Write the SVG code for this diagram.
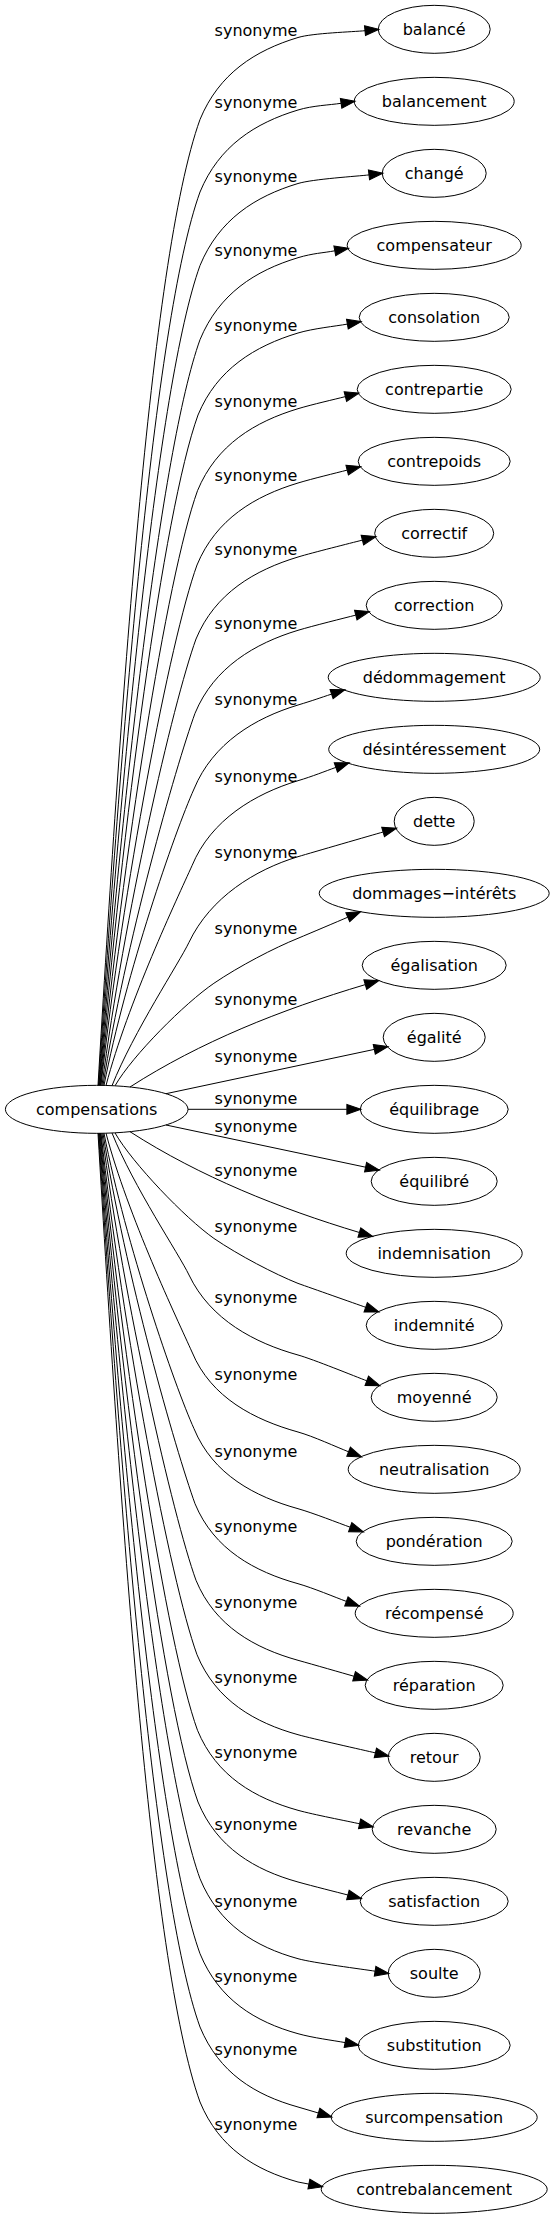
<svg xmlns="http://www.w3.org/2000/svg" width="554" height="2219" viewBox="0 0 554 2219">
<defs>
<marker id="ah" markerUnits="userSpaceOnUse" markerWidth="14" markerHeight="10" viewBox="0 0 13.33 9.33" refX="0" refY="4.67" orient="auto" overflow="visible"><polygon points="0,0 13.33,4.67 0,9.33" fill="#000" stroke="#000" stroke-width="1"/></marker>
<style>
.n ellipse{fill:none;stroke:#000;stroke-width:1}
text{font-family:"DejaVu Sans","Liberation Sans",sans-serif;font-size:16px;fill:#000;text-anchor:middle}
#edges path{fill:none;stroke:#000;stroke-width:1;marker-end:url(#ah)}
</style>
</defs>
<rect width="554" height="2219" fill="#fff"/>
<g id="edges">
<path d="M98,1085.4 C119.9,720.3 149.4,260 200,119.5 C219,73.5 255,50.5 298,37.5 C313,33 353.1,31.9 365,30.7"/>
<path d="M98.5,1085.4 C120.4,747.7 153.2,322 200,192 C219,146 255,123 298,110 C313,105.5 329.2,105.1 341.1,103.3"/>
<path d="M99,1085.4 C120.9,775.5 157.1,384.8 200,265.5 C219,219.5 255,196.5 298,183.5 C313,179 357.1,176.3 369,174.9"/>
<path d="M99.5,1085.4 C121.4,803.5 160.9,448.2 200,339.7 C219,293.7 255,270.7 298,257.7 C313,253.2 323,253 334.8,250.8"/>
<path d="M100,1085.4 C121.9,832 162.9,512.5 198,415 C217,369 255,346 298,333 C313,328.5 335.6,326.2 347.4,324.1"/>
<path d="M100.5,1085.4 C122.4,860.6 166.4,577.2 197.5,490.7 C216.5,444.7 255,421.7 298,408.7 C313,404.2 333.8,399.6 345.4,396.6"/>
<path d="M101,1085.4 C122.9,888.7 169.7,640.7 197,565 C216,519 255,496 298,483 C313,478.5 335.6,473.1 347.2,470.1"/>
<path d="M102,1085.4 C123.9,916.7 172.6,704 196,639 C215,593 255,570 298,557 C313,552.5 350.8,543.1 362.4,540.1"/>
<path d="M103,1085.4 C124.9,944.7 175.5,767.4 195,713.3 C214,667.3 255,643.3 298,630.3 C313,625.8 344.2,618.1 355.8,615.1"/>
<path d="M104,1085.4 C125.9,973.4 174.6,832.1 194,789 C213,743 255,718 298,705 C313,700.5 320.2,697.8 331.6,694.1"/>
<path d="M106,1085.5 C127.9,1002.3 177.6,897.7 192,865.7 C211,819.7 255,793.7 298,780.7 C313,776.2 324.6,771.4 335.9,767.4"/>
<path d="M112,1085.7 C133.7,1031.5 179,963.2 189,942.3 C210.5,897.3 255,869.7 298,856.7 C313,852.2 371.6,835.3 383.1,832"/>
<path d="M115,1085.8 C132.5,1055.4 185,1003 213.9,983.3 C238.7,966.4 274.8,947.6 298,938.3 C311.8,932.5 336.8,921.9 347.8,917.2"/>
<path d="M130,1087 C200,1042 280,1010 365.3,984.6"/>
<path d="M166,1093.7 L374.3,1049.4"/>
<path d="M188,1109.3 L346.9,1109.3"/>
<path d="M166,1125 L365.6,1167.2"/>
<path d="M130,1131.7 C200,1176.7 280,1208.7 359.4,1232.5"/>
<path d="M115,1132.9 C132.5,1163.3 185,1218 213.9,1238.4 C238.7,1255.3 274.8,1274.1 298,1283.4 C312.1,1288.4 354.4,1303.3 365.7,1307.3"/>
<path d="M112,1133 C133.5,1186.7 179.1,1254.3 189,1275 C210.5,1320 255,1343 298,1355 C313,1359.2 355.6,1376.6 366.8,1380.8"/>
<path d="M106,1133.2 C127.9,1216 177.7,1320.2 192,1352 C211,1398 255,1420 298,1432 C313,1436.2 337.4,1447.4 348.6,1451.8"/>
<path d="M104,1133.3 C125.9,1245 174.6,1385.7 194,1428.7 C213,1474.7 255,1496.7 298,1508.7 C313,1512.9 338.9,1523.2 350.2,1527.2"/>
<path d="M103,1133.3 C124.9,1273.3 175.6,1449.8 195,1503.7 C214,1549.7 255,1571.7 298,1583.7 C313,1587.9 335.1,1597.3 346.4,1601.4"/>
<path d="M102,1133.3 C123.9,1302.3 172.6,1515.3 196,1580.3 C215,1626.3 255,1648.3 298,1660.3 C313,1664.5 342.6,1673 354.1,1676.3"/>
<path d="M101,1133.3 C122.9,1330.4 169.7,1578.8 197,1654.7 C216,1700.7 255,1722.7 298,1734.7 C313,1738.9 363.7,1750.1 375.4,1752.9"/>
<path d="M100.5,1133.3 C122.4,1359 166.2,1643.4 197.5,1730.3 C216.5,1776.3 255,1798.3 298,1810.3 C313,1814.5 347.9,1821.2 359.6,1823.8"/>
<path d="M100,1133.3 C121.9,1386.1 163,1704.7 198,1802 C217,1848 255,1870 298,1882 C313,1886.2 336.3,1892 347.9,1895"/>
<path d="M99.5,1133.3 C121.4,1415.1 160.9,1770.2 200,1878.7 C219,1924.7 255,1946.7 298,1958.7 C313,1962.9 363.3,1969.3 375.1,1971.2"/>
<path d="M99,1133.3 C120.9,1443.4 157,1834.3 200,1953.7 C219,1999.7 255,2021.7 298,2033.7 C313,2037.9 333.3,2040.4 345.1,2042.6"/>
<path d="M98.5,1133.3 C120.4,1471.1 153.2,1897 200,2027 C219,2073 255,2095 298,2107 L318.4,2113"/>
<path d="M98,1133.3 C119.9,1499.5 149.3,1961.1 200,2102 C219,2148 255,2170 298,2182 L308.9,2184.1"/>
</g>
<g id="edge-labels">
<text x="256" y="35.5">synonyme</text>
<text x="256" y="108">synonyme</text>
<text x="256" y="181.5">synonyme</text>
<text x="256" y="255.7">synonyme</text>
<text x="256" y="331">synonyme</text>
<text x="256" y="406.7">synonyme</text>
<text x="256" y="481">synonyme</text>
<text x="256" y="555">synonyme</text>
<text x="256" y="629.3">synonyme</text>
<text x="256" y="705">synonyme</text>
<text x="256" y="781.7">synonyme</text>
<text x="256" y="858.3">synonyme</text>
<text x="256" y="934.3">synonyme</text>
<text x="256" y="1005">synonyme</text>
<text x="256" y="1061.7">synonyme</text>
<text x="256" y="1104">synonyme</text>
<text x="256" y="1131.7">synonyme</text>
<text x="256" y="1175.7">synonyme</text>
<text x="256" y="1231.7">synonyme</text>
<text x="256" y="1303">synonyme</text>
<text x="256" y="1380">synonyme</text>
<text x="256" y="1456.7">synonyme</text>
<text x="256" y="1531.7">synonyme</text>
<text x="256" y="1608.3">synonyme</text>
<text x="256" y="1682.7">synonyme</text>
<text x="256" y="1758.3">synonyme</text>
<text x="256" y="1830">synonyme</text>
<text x="256" y="1906.7">synonyme</text>
<text x="256" y="1981.7">synonyme</text>
<text x="256" y="2055">synonyme</text>
<text x="256" y="2130">synonyme</text>
</g>
<g id="compensations" class="n"><ellipse cx="96.7" cy="1109.33" rx="91.3" ry="24"/><text x="96.7" y="1114.8">compensations</text></g>
<g id="balance" class="n"><ellipse cx="434.2" cy="29.33" rx="56" ry="24"/><text x="434.2" y="34.8">balancé</text></g>
<g id="balancement" class="n"><ellipse cx="434.2" cy="101.33" rx="80" ry="24"/><text x="434.2" y="106.8">balancement</text></g>
<g id="change" class="n"><ellipse cx="434.2" cy="173.33" rx="52" ry="24"/><text x="434.2" y="178.8">changé</text></g>
<g id="compensateur" class="n"><ellipse cx="434.2" cy="245.33" rx="87" ry="24"/><text x="434.2" y="250.8">compensateur</text></g>
<g id="consolation" class="n"><ellipse cx="434.2" cy="317.33" rx="75" ry="24"/><text x="434.2" y="322.8">consolation</text></g>
<g id="contrepartie" class="n"><ellipse cx="434.2" cy="389.33" rx="77" ry="24"/><text x="434.2" y="394.8">contrepartie</text></g>
<g id="contrepoids" class="n"><ellipse cx="434.2" cy="461.33" rx="76" ry="24"/><text x="434.2" y="466.8">contrepoids</text></g>
<g id="correctif" class="n"><ellipse cx="434.2" cy="533.33" rx="59.5" ry="24"/><text x="434.2" y="538.8">correctif</text></g>
<g id="correction" class="n"><ellipse cx="434.2" cy="605.33" rx="68" ry="24"/><text x="434.2" y="610.8">correction</text></g>
<g id="dedommagement" class="n"><ellipse cx="434.2" cy="677.33" rx="106" ry="24"/><text x="434.2" y="682.8">dédommagement</text></g>
<g id="desinteressement" class="n"><ellipse cx="434.2" cy="749.33" rx="105.5" ry="24"/><text x="434.2" y="754.8">désintéressement</text></g>
<g id="dette" class="n"><ellipse cx="434.2" cy="821.33" rx="40" ry="24"/><text x="434.2" y="826.8">dette</text></g>
<g id="dommages-interets" class="n"><ellipse cx="434.2" cy="893.33" rx="115" ry="24"/><text x="434.2" y="898.8">dommages−intérêts</text></g>
<g id="egalisation" class="n"><ellipse cx="434.2" cy="965.33" rx="72" ry="24"/><text x="434.2" y="970.8">égalisation</text></g>
<g id="egalite" class="n"><ellipse cx="434.2" cy="1037.33" rx="51" ry="24"/><text x="434.2" y="1042.8">égalité</text></g>
<g id="equilibrage" class="n"><ellipse cx="434.2" cy="1109.33" rx="74" ry="24"/><text x="434.2" y="1114.8">équilibrage</text></g>
<g id="equilibre" class="n"><ellipse cx="434.2" cy="1181.33" rx="63" ry="24"/><text x="434.2" y="1186.8">équilibré</text></g>
<g id="indemnisation" class="n"><ellipse cx="434.2" cy="1253.33" rx="88" ry="24"/><text x="434.2" y="1258.8">indemnisation</text></g>
<g id="indemnite" class="n"><ellipse cx="434.2" cy="1325.33" rx="68" ry="24"/><text x="434.2" y="1330.8">indemnité</text></g>
<g id="moyenne" class="n"><ellipse cx="434.2" cy="1397.33" rx="63" ry="24"/><text x="434.2" y="1402.8">moyenné</text></g>
<g id="neutralisation" class="n"><ellipse cx="434.2" cy="1469.33" rx="86" ry="24"/><text x="434.2" y="1474.8">neutralisation</text></g>
<g id="ponderation" class="n"><ellipse cx="434.2" cy="1541.33" rx="78" ry="24"/><text x="434.2" y="1546.8">pondération</text></g>
<g id="recompense" class="n"><ellipse cx="434.2" cy="1613.33" rx="79" ry="24"/><text x="434.2" y="1618.8">récompensé</text></g>
<g id="reparation" class="n"><ellipse cx="434.2" cy="1685.33" rx="69" ry="24"/><text x="434.2" y="1690.8">réparation</text></g>
<g id="retour" class="n"><ellipse cx="434.2" cy="1757.33" rx="46" ry="24"/><text x="434.2" y="1762.8">retour</text></g>
<g id="revanche" class="n"><ellipse cx="434.2" cy="1829.33" rx="62" ry="24"/><text x="434.2" y="1834.8">revanche</text></g>
<g id="satisfaction" class="n"><ellipse cx="434.2" cy="1901.33" rx="74" ry="24"/><text x="434.2" y="1906.8">satisfaction</text></g>
<g id="soulte" class="n"><ellipse cx="434.2" cy="1973.33" rx="46" ry="24"/><text x="434.2" y="1978.8">soulte</text></g>
<g id="substitution" class="n"><ellipse cx="434.2" cy="2045.33" rx="76" ry="24"/><text x="434.2" y="2050.8">substitution</text></g>
<g id="surcompensation" class="n"><ellipse cx="434.2" cy="2117.33" rx="103" ry="24"/><text x="434.2" y="2122.8">surcompensation</text></g>
<g id="contrebalancement" class="n"><ellipse cx="434.2" cy="2189.33" rx="113" ry="24"/><text x="434.2" y="2194.8">contrebalancement</text></g>
</svg>
